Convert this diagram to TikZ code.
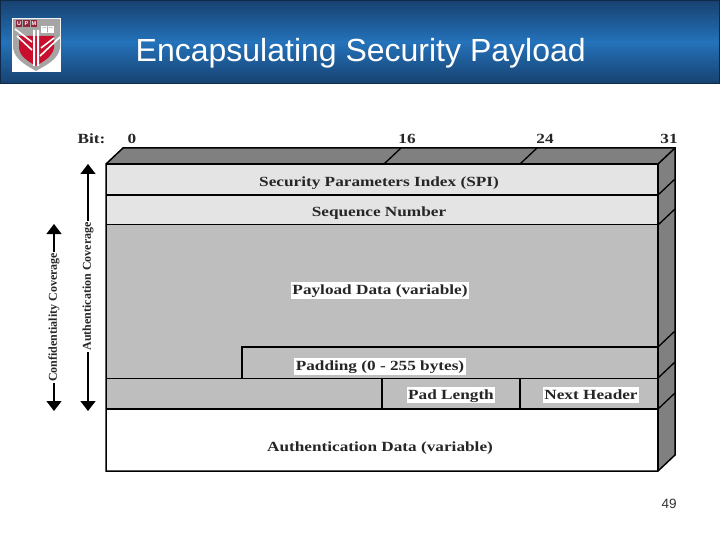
\documentclass[tikz,border=0pt]{standalone}
\usepackage{fontspec}
\setmainfont{Liberation Serif}[FakeStretch=1.23]
\newfontfamily\plainserif{Liberation Serif}
\newfontfamily\arialf{Liberation Sans}
\usetikzlibrary{arrows.meta}
\definecolor{hdark}{HTML}{17416F}
\definecolor{hmid}{HTML}{2472BA}
\definecolor{hedge}{HTML}{0E2A48}
\definecolor{sidegray}{HTML}{808080}
\definecolor{lightg}{HTML}{E4E4E4}
\definecolor{midg}{HTML}{BEBEBE}
\definecolor{ured}{HTML}{C8102E}
\definecolor{ugray}{HTML}{A5A5A5}
\definecolor{umaroon}{HTML}{8E2A40}
\tikzset{
  x=1pt,y=-1pt,
  edgeline/.style={draw=black,line width=1.5pt,line join=miter},
  thinedge/.style={draw=black,line width=1pt},
  tick/.style={draw=black,line width=1.3pt},
  lab/.style={font=\bfseries\fontsize{14}{15}\selectfont,inner sep=1.5pt,text=black!85,text height=11pt,text depth=2.5pt},
  wlab/.style={lab,fill=white},
  cover/.style={draw=black,line width=1.4pt,-{Triangle[length=10pt,width=15pt]}},
  covlab/.style={font=\plainserif\bfseries\fontsize{12}{13}\selectfont,rotate=90,inner sep=1pt,text=black!85},
  upmbox/.style={fill=umaroon,text=white,font=\arialf\bfseries\fontsize{5.5}{6}\selectfont,inner sep=0pt,minimum width=6.5pt,minimum height=6.5pt}
}
\begin{document}
\begin{tikzpicture}
\useasboundingbox (0,0) rectangle (720,540);
\fill[white] (0,0) rectangle (720,540);
% header
\fill[top color=hdark,bottom color=hmid] (0,0) rectangle (720,42);
\fill[top color=hmid,bottom color=hdark] (0,42) rectangle (720,84);
\draw[hedge,line width=1pt] (0.5,0.5) rectangle (719.5,83.8);
\node[font=\arialf\fontsize{32}{34}\selectfont,text=white,anchor=west,inner sep=0pt] (title) at (135.5,53.5) {Encapsulating Security Payload};
% logo
\fill[white] (12,18) rectangle (61,72);
\fill[ugray] (13,19) -- (60,19) -- (60,48) .. controls (58,60) and (46,65) .. (36,71) .. controls (26,65) and (15,60) .. (13,48) -- cycle;
\fill[ured] (19,36) -- (54,36) -- (54,48) .. controls (52,57) and (44,61) .. (36,66) .. controls (28,61) and (20,57) .. (19,48) -- cycle;
\draw[white,line width=1.6pt] (15,29) -- (32,42) (17,36) -- (32,50) (60,37) -- (40,56) (54,38) -- (41,48);
\fill[white] (33,30) rectangle (35,66) (37,30) rectangle (39,66);
\node[upmbox] (lu) at (19,23.5) {U};
\node[upmbox] (lp) at (26.5,23.5) {P};
\node[upmbox] (lm) at (34,23.5) {M};
\fill[white] (41,26) rectangle (54,33);
\draw[ugray,line width=0.6pt] (47.5,26.5) -- (47.5,32.5) (42,28) -- (46,27.5) (49,27.5) -- (53,28);
% 3D body
\path[fill=sidegray] (106,164) -- (123,148) -- (675,148) -- (658,164) -- cycle;
\path[fill=sidegray] (658,164) -- (675,148) -- (675,455) -- (658,471) -- cycle;
\fill[white] (106,164) rectangle (658,471);
\fill[lightg] (106,164) rectangle (658,225);
\fill[midg] (106,225) rectangle (658,409);
% rows
\coordinate (fl1) at (106,195); \coordinate (fr1) at (658,195);
\coordinate (fl2) at (106,225); \coordinate (fr2) at (658,225);
\coordinate (step1) at (242,347); \coordinate (fr3) at (658,347);
\coordinate (step2) at (242,378); \coordinate (fl4) at (106,378); \coordinate (fr4) at (658,378);
\coordinate (fl5) at (106,409); \coordinate (fr5) at (658,409);
\draw[edgeline] (fl1) -- (fr1);
\draw[thinedge] (fl2) -- (fr2);
\draw[edgeline] (step2) -- (step1) -- (fr3);
\draw[thinedge] (fl4) -- (fr4);
\draw[edgeline] (fl5) -- (fr5);
\coordinate (v1t) at (382,378); \coordinate (v1b) at (382,409);
\coordinate (v2t) at (520,378); \coordinate (v2b) at (520,409);
\draw[edgeline] (v1t) -- (v1b) (v2t) -- (v2b);
% outline
\draw[edgeline] (106,164) -- (123,148) -- (675,148) -- (675,455) -- (658,471) -- (106,471) -- cycle;
\draw[edgeline] (106,164) -- (658,164) -- (658,471);
\draw[edgeline] (658,164) -- (675,148);
% ticks
\draw[tick] (384,164) -- (401,148);
\draw[tick] (520,164) -- (537,148);
\foreach \yy in {195,225,347,378,409}{\draw[tick] (658,\yy) -- (675,\yy-16);}
% bit labels
\node[lab] (bit) at (91.5,139.5) {Bit:};
\node[lab] (b0) at (132,139.5) {0};
\node[lab] (b16) at (407,139.5) {16};
\node[lab] (b24) at (545,139.5) {24};
\node[lab] (b31) at (669,139.5) {31};
% field labels
\node[lab] (spi) at (379,182.5) {Security Parameters Index (SPI)};
\node[lab] (seq) at (379,212.5) {Sequence Number};
\node[wlab] (pay) at (380,290.5) {Payload Data (variable)};
\node[wlab] (pad) at (380,366.5) {Padding (0 - 255 bytes)};
\node[wlab] (pl) at (451,395) {Pad Length};
\node[wlab] (nh) at (591,395) {Next Header};
\node[lab] (auth) at (380,447.5) {Authentication Data (variable)};
% coverage
\node[covlab] (conf) at (54,317.5) {Confidentiality Coverage};
\node[covlab] (authc) at (88,286.5) {Authentication Coverage};
\draw[cover] (conf.east) -- (54,224);
\draw[cover] (conf.west) -- (54,411);
\draw[cover] (authc.east) -- (88,164);
\draw[cover] (authc.west) -- (88,411);
\node[font=\arialf\fontsize{13.5}{14}\selectfont,text=black!80,inner sep=0pt] (num) at (669,504) {49};
\end{tikzpicture}
\end{document}
